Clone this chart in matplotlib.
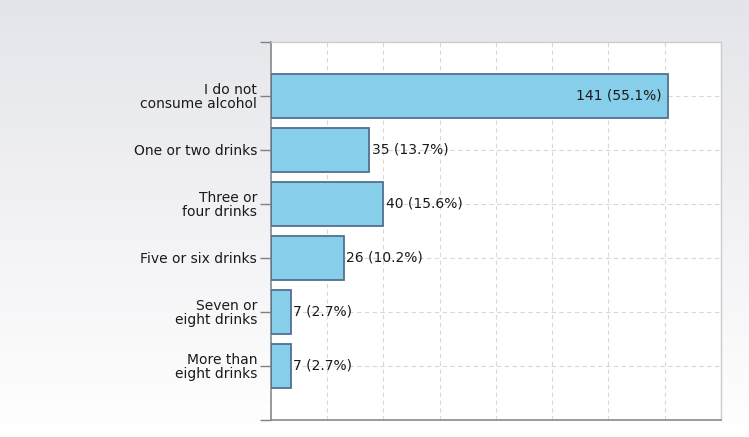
import matplotlib
matplotlib.use("Agg")
import matplotlib.pyplot as plt
import numpy as np

categories = ["I do not\nconsume alcohol", "One or two drinks", "Three or\nfour drinks",
              "Five or six drinks", "Seven or\neight drinks", "More than\neight drinks"]
counts = [141, 35, 40, 26, 7, 7]
percents = [55.1, 13.7, 15.6, 10.2, 2.7, 2.7]

plt.rcParams['font.family'] = ['DejaVu Sans']

fig = plt.figure(figsize=(7.49, 4.37), dpi=100)

# background gradient
bg = fig.add_axes([0, 0, 1, 1], zorder=-10)
grad = np.linspace(0, 1, 256).reshape(-1, 1)
top = np.array([0.894, 0.898, 0.918])
bot = np.array([1.0, 1.0, 1.0])
img = top[None, None, :] * (1 - grad[:, :, None]) + bot[None, None, :] * grad[:, :, None]
bg.imshow(img, aspect='auto', extent=[0, 1, 0, 1])
bg.axis('off')

ax = fig.add_axes([0.3618, 0.0389, 0.6008, 0.865])
ax.set_facecolor('white')
y = np.arange(1, len(categories) + 1)
ax.set_xlim(0, 160)
ax.set_ylim(7, 0)

ax.barh(y, counts, height=0.8, color='#87ceeb', edgecolor='#52708f', linewidth=1.3, zorder=3)

fs = 10
for yi, c, p in zip(y, counts, percents):
    label = f"{c} ({p}%)"
    if c > 100:
        ax.text(c - 2, yi, label, ha='right', va='center', fontsize=fs, color='#1a1a1a', zorder=4)
    else:
        ax.text(c + 0.8, yi, label, ha='left', va='center', fontsize=fs, color='#1a1a1a', zorder=4)

ax.set_xticks(np.arange(0, 161, 20))
ax.set_xticklabels([])
ax.tick_params(axis='x', length=0)
ax.set_yticks(list(y))
ax.set_yticklabels(categories, fontsize=fs, color='#1a1a1a', linespacing=0.95)
ax.set_yticks([0, 7], minor=True)
ax.tick_params(axis='y', which='both', length=8, color='#808080', width=1, pad=2)
ax.grid(True, which='major', color='#d8d8d8', linestyle=(0, (4, 3)), linewidth=0.8, zorder=0)
ax.set_axisbelow(True)

for s in ['left', 'bottom']:
    ax.spines[s].set_color('#8a8a8a')
    ax.spines[s].set_linewidth(1.2)
for s in ['top', 'right']:
    ax.spines[s].set_color('#cccccc')
    ax.spines[s].set_linewidth(1)

fig.savefig('out.png', dpi=100)
